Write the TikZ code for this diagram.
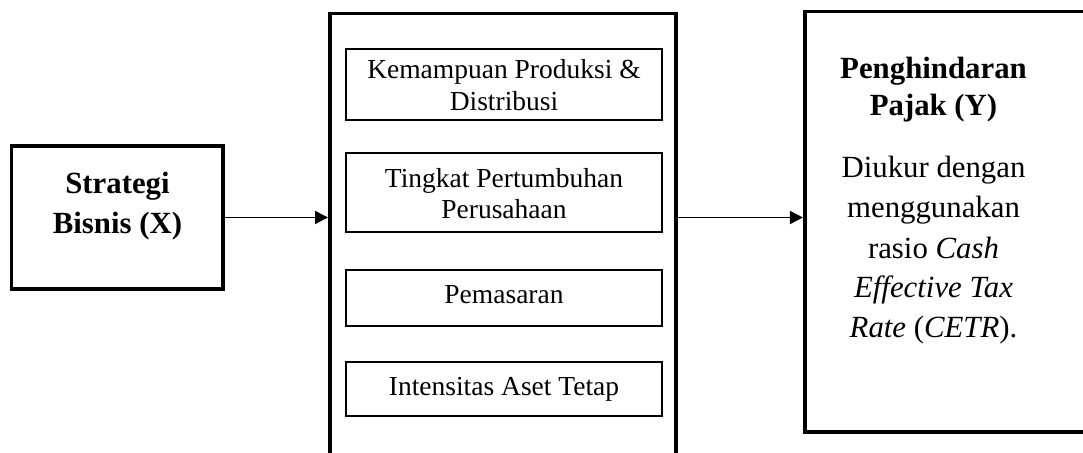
\documentclass[tikz,border=0pt]{standalone}
\usepackage{fontspec}
\setmainfont{Liberation Serif}
\usetikzlibrary{arrows.meta}
\tikzset{
  thickbox/.style={draw, line width=3.6pt, inner sep=0pt},
  thinbox/.style={draw, line width=1.8pt, inner sep=0pt},
  boldtxt/.style={font=\fontsize{30.8}{40}\selectfont\bfseries, anchor=base, inner sep=0pt},
  bodytxt/.style={font=\fontsize{30.8}{40}\selectfont, anchor=base, inner sep=0pt},
  innertxt/.style={font=\fontsize{27.5}{32}\selectfont, anchor=base, inner sep=0pt},
  conn/.style={line width=1.5pt, -{Triangle[length=13pt,width=13pt]}}
}
\begin{document}
\begin{tikzpicture}[x=1pt,y=-1pt]
\clip (0,0) rectangle (1083,452);
\fill[white] (0,0) rectangle (1083,452);
% boxes
\node[thickbox, minimum width=211.5pt, minimum height=143.4pt] (xbox) at (117.25,217.5) {};
\node[thickbox, minimum width=346.4pt, minimum height=466.4pt] (mid) at (503,246.8) {};
\node[thickbox, minimum width=315.5pt, minimum height=420.4pt] (ybox) at (962.5,221.65) {};
\node[thinbox, minimum width=316.2pt, minimum height=71.2pt] (b1) at (504,84.5) {};
\node[thinbox, minimum width=316.2pt, minimum height=79.2pt] (b2) at (504,192.5) {};
\node[thinbox, minimum width=316.2pt, minimum height=56.2pt] (b3) at (504,298) {};
\node[thinbox, minimum width=316.2pt, minimum height=54.2pt] (b4) at (504,389) {};
% texts
\node[boldtxt] (x1) at (117.5,193) {Strategi};
\node[boldtxt] (x2) at (117.5,233) {Bisnis (X)};
\node[innertxt] (k1) at (504,78) {Kemampuan Produksi \&};
\node[innertxt] (k2) at (504,110) {Distribusi};
\node[innertxt] (t1) at (504,187) {Tingkat Pertumbuhan};
\node[innertxt] (t2) at (504,218) {Perusahaan};
\node[innertxt] (p1) at (504,303) {Pemasaran};
\node[innertxt] (i1) at (504,395) {Intensitas Aset Tetap};
\node[boldtxt] (y1) at (933.5,78) {Penghindaran};
\node[boldtxt] (y2) at (933.5,115) {Pajak (Y)};
\node[bodytxt] (d1) at (933.5,177) {Diukur dengan};
\node[bodytxt] (d2) at (933.5,217) {menggunakan};
\node[bodytxt] (d3) at (933.5,258) {rasio \textit{Cash}};
\node[bodytxt] (d4) at (933.5,297) {\textit{Effective Tax}};
\node[bodytxt] (d5) at (933.5,337) {\textit{Rate} (\textit{CETR}).};
% connectors
\draw[conn] (xbox.east) -- (xbox.east -| mid.west);
\draw[conn] (xbox.east -| mid.east) -- (xbox.east -| ybox.west);
\end{tikzpicture}
\end{document}
